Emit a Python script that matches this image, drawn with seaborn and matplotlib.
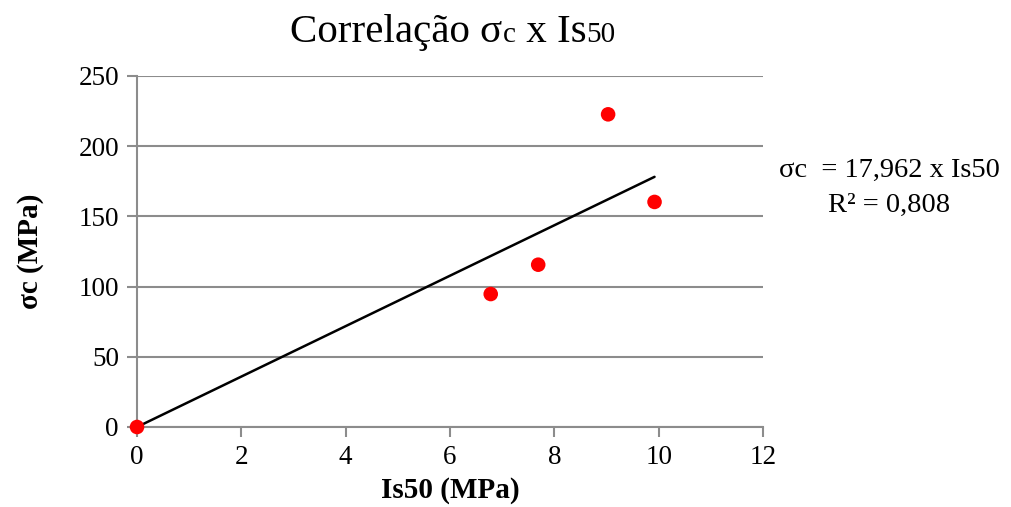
import numpy as np
import pandas as pd
import matplotlib
matplotlib.use('Agg')
import matplotlib.pyplot as plt
import seaborn as sns

# === Data ===
is50 = [0.0, 6.78, 7.69, 9.03, 9.92]
sigma_c = [0.0, 94.7, 115.6, 222.7, 160.3]
slope = 17.962
r2 = 0.808
x_ticks = [0, 2, 4, 6, 8, 10, 12]
y_ticks = [0, 50, 100, 150, 200, 250]

df = pd.DataFrame({'Is50': is50, 'sigma_c': sigma_c})
trend_x = np.array([min(is50), max(is50)])
trend = pd.DataFrame({'Is50': trend_x, 'sigma_c': slope * trend_x})

# === Style ===
sns.set_style('white')
plt.rcParams['font.family'] = ['Liberation Serif', 'DejaVu Serif']
plt.rcParams['text.color'] = 'black'
plt.rcParams['axes.labelcolor'] = 'black'
grid_col = '#8c8c8c'

fig = plt.figure(figsize=(10.12, 5.07), dpi=100)
ax = fig.add_axes([0.1354, 0.1578, 0.6186, 0.6923])

sns.lineplot(data=trend, x='Is50', y='sigma_c', color='black', linewidth=1.8, ax=ax, zorder=3)
sns.scatterplot(data=df, x='Is50', y='sigma_c', color='#FF0000', s=110, edgecolor='none', ax=ax, zorder=4, clip_on=False)

ax.set_xlim(0, 12)
ax.set_ylim(0, 250)
ax.set_xticks(x_ticks)
ax.set_yticks(y_ticks)
ax.tick_params(axis='both', labelsize=19.5, colors=grid_col, labelcolor='black',
               direction='out', length=7, width=1.5, pad=6, bottom=True, left=True)
ax.yaxis.grid(True, color=grid_col, linewidth=1.5)
ax.set_axisbelow(True)
for side in ['top', 'right']:
    ax.spines[side].set_visible(False)
for side in ['left', 'bottom']:
    ax.spines[side].set_color(grid_col)
    ax.spines[side].set_linewidth(1.5)

ax.set_xlabel('Is50 (MPa)', fontsize=21, fontweight='bold', labelpad=5)
ax.set_ylabel('σc (MPa)', fontsize=21, fontweight='bold', labelpad=25)

# === Title with smaller "c" and "50" ===
renderer = fig.canvas.get_renderer()
pieces = [('Correlação σ', 29.5), ('c', 21), (' x Is', 29.5), ('50', 21)]
widths = []
for txt, size in pieces:
    t = fig.text(0, 0, txt, fontsize=size)
    widths.append(t.get_window_extent(renderer).width)
    t.remove()
x_px = 453 - sum(widths) / 2
for (txt, size), w in zip(pieces, widths):
    fig.text(x_px / 1012, 1 - 42 / 507, txt, fontsize=size, va='baseline', ha='left')
    x_px += w

# === Trendline equation ===
eq = f'σc  = {slope:.3f} x Is50'.replace('.', ',')
fig.text(889 / 1012, 1 - 170 / 507, eq, fontsize=20.5, ha='center', va='center')
fig.text(889 / 1012, 1 - 205 / 507, f'R² = {r2:.3f}'.replace('.', ','), fontsize=20.5, ha='center', va='center')

fig.savefig('out.png', dpi=100)
